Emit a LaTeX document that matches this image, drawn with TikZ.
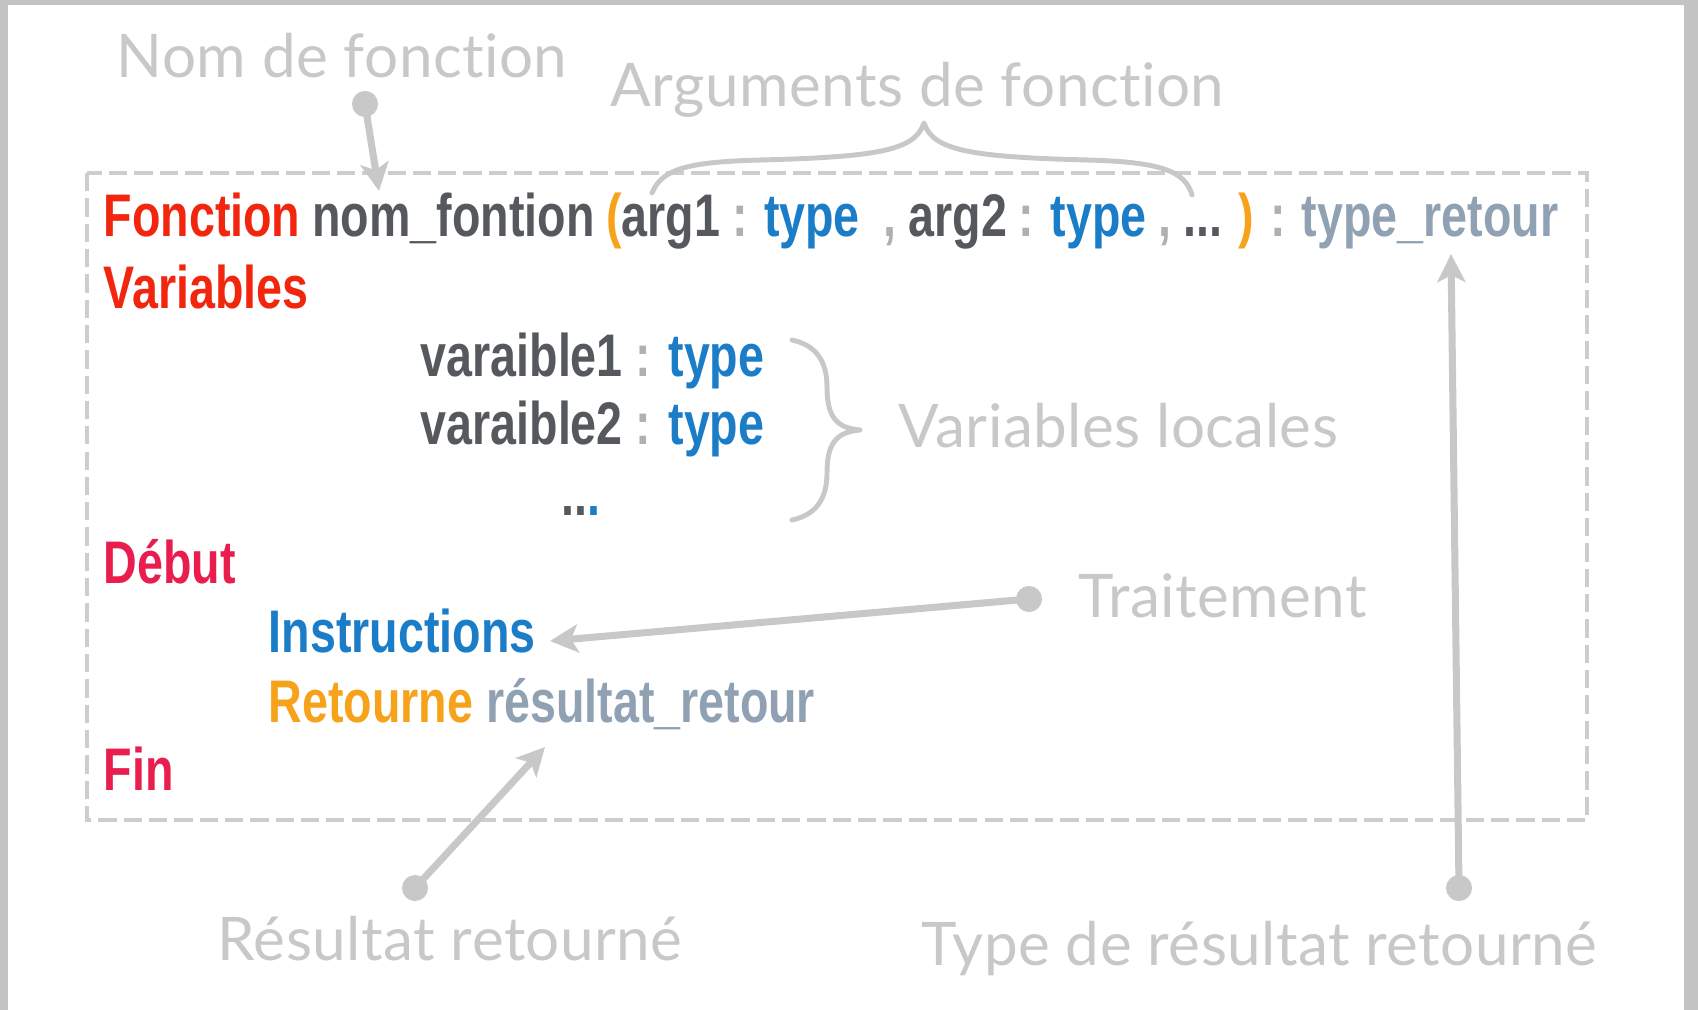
\documentclass[tikz,border=0pt]{standalone}
\usepackage{fontspec}
\setmainfont{Liberation Sans}
\newfontfamily\codefont[FakeStretch=0.775]{Liberation Sans}
\newfontfamily\latofont[Ligatures=NoCommon,LetterSpace=0.8]{Lato}
\usetikzlibrary{arrows.meta}
\definecolor{cred}{HTML}{F2260E}
\definecolor{ccrim}{HTML}{E91E4F}
\definecolor{cdark}{HTML}{55595E}
\definecolor{corange}{HTML}{F7A21B}
\definecolor{cblue}{HTML}{1B7DC8}
\definecolor{cslate}{HTML}{8FA1B3}
\definecolor{ccolon}{HTML}{B0B0B0}
\definecolor{lblgray}{HTML}{C8C8C8}
\definecolor{framegray}{HTML}{C4C4C4}
\definecolor{dashgray}{HTML}{CDCDCD}
\begin{document}
\begin{tikzpicture}[x=0.01cm,y=-0.01cm,
  code/.style={anchor=base west, inner sep=0, font=\codefont\bfseries\fontsize{17.1}{20}\selectfont},
  lbl/.style={anchor=base west, inner sep=0, text=lblgray, font=\latofont\fontsize{17.1}{20}\selectfont},
  dotnode/.style={circle, fill=lblgray, inner sep=0, minimum size=7.4pt},
  arr/.style={draw=lblgray, line width=2pt, -{Stealth[length=8pt,width=8pt,inset=2pt]}},
  bracepath/.style={draw=lblgray, line width=1.4pt, line cap=round, line join=round},
  dashbox/.style={draw=dashgray, line width=1.2pt, dash pattern=on 5.2pt off 2pt}]
% canvas
\useasboundingbox (0,0) rectangle (1698,1010);
\fill[white] (0,0) rectangle (1698,1010);
\fill[framegray] (0,0) rectangle (8,1010);
\fill[framegray] (0,0) rectangle (1698,5);
\fill[framegray] (1684,0) rectangle (1698,1010);
% dashed box
\draw[dashbox] (87,173) rectangle (1587,820);
% code lines
\node[code] (l1) at (103,237) {\spaceskip=0.92\fontdimen2\font\relax\textcolor{cred}{Fonction} \textcolor{cdark}{nom\_fontion} \textcolor{corange}{(}\textcolor{cdark}{arg1} \textcolor{ccolon}{:} \textcolor{cblue}{type}\ \ \textcolor{ccolon}{,} \textcolor{cdark}{arg2} \textcolor{ccolon}{:} \textcolor{cblue}{type} \textcolor{ccolon}{,} \textcolor{cdark}{...} \textcolor{corange}{)} \textcolor{ccolon}{:} \textcolor{cslate}{type\_retour}};
\node[code, text=cred] (l2) at (103,309) {Variables};
\node[code] (v1) at (420,377) {\textcolor{cdark}{varaible1} \textcolor{ccolon}{:} \textcolor{cblue}{type}};
\node[code] (v2) at (420,445) {\textcolor{cdark}{varaible2} \textcolor{ccolon}{:} \textcolor{cblue}{type}};
\node[code] (v3) at (561,515) {\textcolor{cdark}{..}\textcolor{cblue}{.}};
\node[code, text=ccrim] (deb) at (103,583) {Début};
\node[code, text=cblue] (ins) at (268,652) {Instructions};
\node[code] (ret) at (268,722) {\textcolor{corange}{Retourne} \textcolor{cslate}{résultat\_retour}};
\node[code, text=ccrim] (fin) at (103,790) {Fin};
% labels
\node[lbl] (nomlbl) at (116,78) {Nom de fonction};
\node[lbl] (arglbl) at (610,107) {Arguments de fonction};
\node[lbl] (varlbl) at (898,448) {Variables locales};
\node[lbl] (trlbl) at (1078,617) {Traitement};
\node[lbl] (reslbl) at (217,960) {Résultat retourné};
\node[lbl] (typlbl) at (921,965) {Type de résultat retourné};
% braces
\draw[bracepath] (652,193) .. controls (662,168) and (690,162) .. (760,160)
  .. controls (880,157) and (915,150) .. (924,123)
  .. controls (933,150) and (968,157) .. (1088,160)
  .. controls (1158,162) and (1185,170) .. (1192,195);
\draw[bracepath] (792,340) .. controls (815,345) and (827,360) .. (827,387)
  .. controls (827,415) and (835,428) .. (860,430)
  .. controls (835,432) and (827,445) .. (827,473)
  .. controls (827,500) and (815,515) .. (792,520);
% arrows
\node[dotnode] (d1) at (365,104) {};
\coordinate (t1) at (379,191);
\draw[arr] (d1.center) -- (t1);
\node[dotnode] (d2) at (1029,599) {};
\coordinate (t2) at (550,641);
\draw[arr] (d2.center) -- (t2);
\node[dotnode] (d3) at (415,888) {};
\coordinate (t3) at (545,747);
\draw[arr] (d3.center) -- (t3);
\node[dotnode] (d4) at (1459,888) {};
\coordinate (t4) at (1451,254);
\draw[arr] (d4.center) -- (t4);
\end{tikzpicture}
\end{document}
